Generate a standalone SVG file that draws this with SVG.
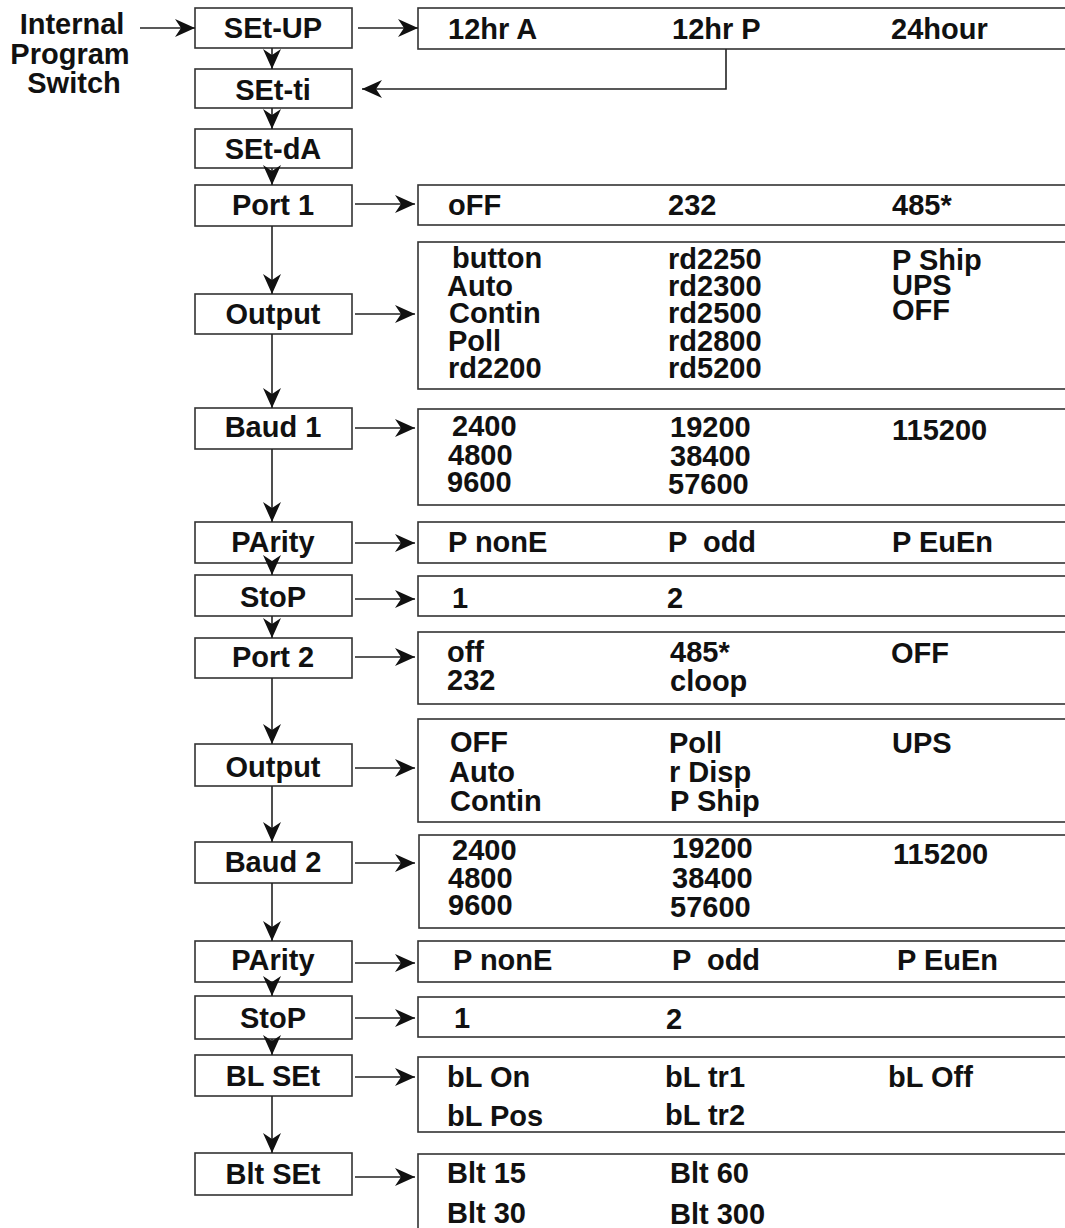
<svg xmlns="http://www.w3.org/2000/svg" width="1065" height="1228" viewBox="0 0 1065 1228">
<style>
.box{fill:#fff;stroke:#333;stroke-width:1.6}
.t{font-family:"Liberation Sans",Arial,sans-serif;font-weight:bold;font-size:29px;fill:#111}
.c{text-anchor:middle}
.ln{fill:none;stroke:#222;stroke-width:1.6}
.pre{white-space:pre}
</style>
<defs>
<marker id="ah" markerUnits="userSpaceOnUse" markerWidth="20" markerHeight="18" refX="20" refY="9" orient="auto" viewBox="0 0 20 18">
<path d="M0,0 L20,9 L0,18 L6,9 Z" fill="#111"/>
</marker>
</defs>
<rect width="1065" height="1228" fill="#fff"/>

<g id="label-internal">
<text class="t c" x="72" y="34">Internal</text>
<text class="t c" x="70" y="64">Program</text>
<text class="t c" x="74" y="93">Switch</text>
</g>

<g id="setup">
<rect class="box" x="195" y="8" width="157" height="40"/>
<text class="t c" x="273" y="38">SEt-UP</text>
</g>
<g id="setup-opts">
<rect class="box" x="418" y="8" width="660" height="41"/>
<text class="t" x="448" y="39">12hr A</text>
<text class="t" x="672" y="39">12hr P</text>
<text class="t" x="891" y="39">24hour</text>
</g>

<g id="setti">
<rect class="box" x="195" y="69" width="157" height="39"/>
<text class="t c" x="273" y="100">SEt-ti</text>
</g>
<g id="setda">
<rect class="box" x="195" y="129" width="157" height="39"/>
<text class="t c" x="273" y="159">SEt-dA</text>
</g>

<g id="port1">
<rect class="box" x="195" y="185" width="157" height="41"/>
<text class="t c" x="273" y="215">Port 1</text>
</g>
<g id="port1-opts">
<rect class="box" x="418" y="185" width="660" height="40"/>
<text class="t" x="448" y="215">oFF</text>
<text class="t" x="668" y="215">232</text>
<text class="t" x="892" y="215">485*</text>
</g>

<g id="output1">
<rect class="box" x="195" y="294" width="157" height="40"/>
<text class="t c" x="273" y="324">Output</text>
</g>
<g id="output1-opts">
<rect class="box" x="418" y="242" width="660" height="147"/>
<text class="t" x="452" y="268">button</text>
<text class="t" x="447" y="296">Auto</text>
<text class="t" x="449" y="323">Contin</text>
<text class="t" x="448" y="351">Poll</text>
<text class="t" x="448" y="378">rd2200</text>
<text class="t" x="668" y="269">rd2250</text>
<text class="t" x="668" y="296">rd2300</text>
<text class="t" x="668" y="323">rd2500</text>
<text class="t" x="668" y="351">rd2800</text>
<text class="t" x="668" y="378">rd5200</text>
<text class="t" x="892" y="270">P Ship</text>
<text class="t" x="892" y="295">UPS</text>
<text class="t" x="892" y="320">OFF</text>
</g>

<g id="baud1">
<rect class="box" x="195" y="408" width="157" height="41"/>
<text class="t c" x="273" y="437">Baud 1</text>
</g>
<g id="baud1-opts">
<rect class="box" x="418" y="409" width="660" height="96"/>
<text class="t" x="452" y="436">2400</text>
<text class="t" x="448" y="465">4800</text>
<text class="t" x="447" y="492">9600</text>
<text class="t" x="670" y="437">19200</text>
<text class="t" x="670" y="466">38400</text>
<text class="t" x="668" y="494">57600</text>
<text class="t" x="892" y="440">115200</text>
</g>

<g id="parity1">
<rect class="box" x="195" y="522" width="157" height="41"/>
<text class="t c" x="273" y="552">PArity</text>
</g>
<g id="parity1-opts">
<rect class="box" x="418" y="522" width="660" height="41"/>
<text class="t" x="448" y="552">P nonE</text>
<text class="t pre" x="668" y="552">P  odd</text>
<text class="t" x="892" y="552">P EuEn</text>
</g>

<g id="stop1">
<rect class="box" x="195" y="575" width="157" height="41"/>
<text class="t c" x="273" y="607">StoP</text>
</g>
<g id="stop1-opts">
<rect class="box" x="418" y="576" width="660" height="40"/>
<text class="t" x="452" y="608">1</text>
<text class="t" x="667" y="608">2</text>
</g>

<g id="port2">
<rect class="box" x="195" y="638" width="157" height="40"/>
<text class="t c" x="273" y="667">Port 2</text>
</g>
<g id="port2-opts">
<rect class="box" x="418" y="632" width="660" height="72"/>
<text class="t" x="447" y="662">off</text>
<text class="t" x="447" y="690">232</text>
<text class="t" x="670" y="662">485*</text>
<text class="t" x="670" y="691">cloop</text>
<text class="t" x="891" y="663">OFF</text>
</g>

<g id="output2">
<rect class="box" x="195" y="744" width="157" height="42"/>
<text class="t c" x="273" y="777">Output</text>
</g>
<g id="output2-opts">
<rect class="box" x="418" y="719" width="660" height="103"/>
<text class="t" x="450" y="752">OFF</text>
<text class="t" x="449" y="782">Auto</text>
<text class="t" x="450" y="811">Contin</text>
<text class="t" x="669" y="753">Poll</text>
<text class="t" x="669" y="782">r Disp</text>
<text class="t" x="670" y="811">P Ship</text>
<text class="t" x="892" y="753">UPS</text>
</g>

<g id="baud2">
<rect class="box" x="195" y="842" width="157" height="41"/>
<text class="t c" x="273" y="872">Baud 2</text>
</g>
<g id="baud2-opts">
<rect class="box" x="419" y="835" width="660" height="93"/>
<text class="t" x="452" y="860">2400</text>
<text class="t" x="448" y="888">4800</text>
<text class="t" x="448" y="915">9600</text>
<text class="t" x="672" y="858">19200</text>
<text class="t" x="672" y="888">38400</text>
<text class="t" x="670" y="917">57600</text>
<text class="t" x="893" y="864">115200</text>
</g>

<g id="parity2">
<rect class="box" x="195" y="941" width="157" height="41"/>
<text class="t c" x="273" y="970">PArity</text>
</g>
<g id="parity2-opts">
<rect class="box" x="418" y="941" width="660" height="41"/>
<text class="t" x="453" y="970">P nonE</text>
<text class="t pre" x="672" y="970">P  odd</text>
<text class="t" x="897" y="970">P EuEn</text>
</g>

<g id="stop2">
<rect class="box" x="195" y="996" width="157" height="43"/>
<text class="t c" x="273" y="1028">StoP</text>
</g>
<g id="stop2-opts">
<rect class="box" x="418" y="997" width="660" height="40"/>
<text class="t" x="454" y="1028">1</text>
<text class="t" x="666" y="1029">2</text>
</g>

<g id="blset">
<rect class="box" x="195" y="1055" width="157" height="41"/>
<text class="t c" x="273" y="1086">BL SEt</text>
</g>
<g id="blset-opts">
<rect class="box" x="418" y="1057" width="660" height="75"/>
<text class="t" x="447" y="1087">bL On</text>
<text class="t" x="447" y="1126">bL Pos</text>
<text class="t" x="665" y="1087">bL tr1</text>
<text class="t" x="665" y="1125">bL tr2</text>
<text class="t" x="888" y="1087">bL Off</text>
</g>

<g id="bltset">
<rect class="box" x="195" y="1153" width="157" height="42"/>
<text class="t c" x="273" y="1184">Blt SEt</text>
</g>
<g id="bltset-opts">
<rect class="box" x="418" y="1154" width="660" height="90"/>
<text class="t" x="447" y="1183">Blt 15</text>
<text class="t" x="447" y="1223">Blt 30</text>
<text class="t" x="670" y="1183">Blt 60</text>
<text class="t" x="670" y="1224">Blt 300</text>
</g>

<g id="connectors" class="ln" marker-end="url(#ah)">
<path class="ln" marker-end="url(#ah)" d="M140,28 H195"/>
<path class="ln" marker-end="url(#ah)" d="M358,28 H418"/>
<path class="ln" marker-end="url(#ah)" d="M726,49 V89 H362"/>
<path class="ln" marker-end="url(#ah)" d="M272,48 V69"/>
<path class="ln" marker-end="url(#ah)" d="M272,108 V129"/>
<path class="ln" marker-end="url(#ah)" d="M272,168 V185"/>
<path class="ln" marker-end="url(#ah)" d="M272,226 V294"/>
<path class="ln" marker-end="url(#ah)" d="M272,334 V408"/>
<path class="ln" marker-end="url(#ah)" d="M272,449 V522"/>
<path class="ln" marker-end="url(#ah)" d="M272,563 V575"/>
<path class="ln" marker-end="url(#ah)" d="M272,616 V638"/>
<path class="ln" marker-end="url(#ah)" d="M272,678 V744"/>
<path class="ln" marker-end="url(#ah)" d="M272,786 V842"/>
<path class="ln" marker-end="url(#ah)" d="M272,883 V941"/>
<path class="ln" marker-end="url(#ah)" d="M272,982 V996"/>
<path class="ln" marker-end="url(#ah)" d="M272,1039 V1055"/>
<path class="ln" marker-end="url(#ah)" d="M272,1096 V1153"/>
<path class="ln" marker-end="url(#ah)" d="M355,204 H415"/>
<path class="ln" marker-end="url(#ah)" d="M355,314 H415"/>
<path class="ln" marker-end="url(#ah)" d="M355,428 H415"/>
<path class="ln" marker-end="url(#ah)" d="M355,543 H415"/>
<path class="ln" marker-end="url(#ah)" d="M355,599 H415"/>
<path class="ln" marker-end="url(#ah)" d="M355,657 H415"/>
<path class="ln" marker-end="url(#ah)" d="M355,768 H415"/>
<path class="ln" marker-end="url(#ah)" d="M355,863 H415"/>
<path class="ln" marker-end="url(#ah)" d="M355,963 H415"/>
<path class="ln" marker-end="url(#ah)" d="M355,1018 H415"/>
<path class="ln" marker-end="url(#ah)" d="M355,1077 H415"/>
<path class="ln" marker-end="url(#ah)" d="M355,1177 H415"/>
</g>
</svg>
